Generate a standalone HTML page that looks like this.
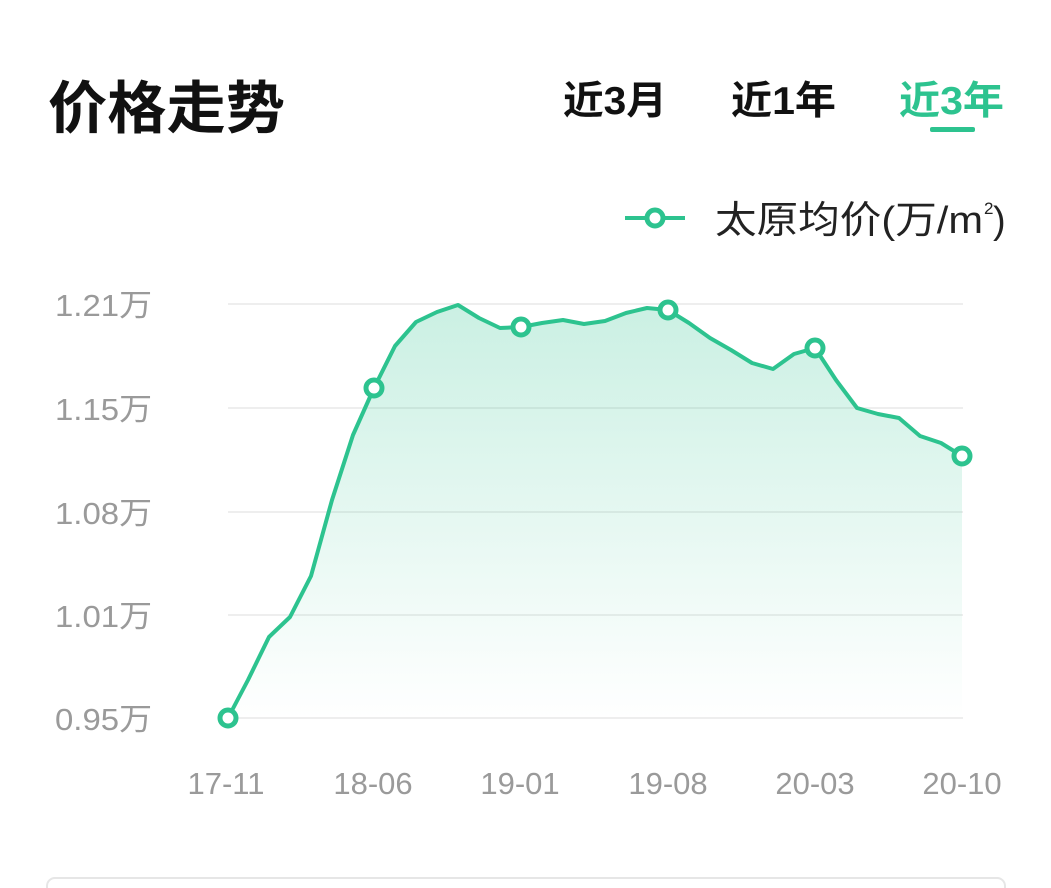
<!DOCTYPE html>
<html><head><meta charset="utf-8"><style>
body{margin:0;width:1051px;height:888px;background:#fff;overflow:hidden;font-family:"Liberation Sans","Noto Sans CJK SC",sans-serif;}
</style></head><body>
<svg width="1051" height="888" xmlns="http://www.w3.org/2000/svg" style="position:absolute;left:0;top:0">
<defs><linearGradient id="g" x1="0" y1="0" x2="0" y2="1"><stop offset="0" stop-color="#2dc38f" stop-opacity="0.25"/><stop offset="1" stop-color="#2dc38f" stop-opacity="0"/></linearGradient></defs>
<g font-family="Liberation Sans,Noto Sans CJK SC,sans-serif">
<text x="48" y="128" font-size="57" font-weight="bold" fill="#111" textLength="237" lengthAdjust="spacingAndGlyphs">价格走势</text>
<text x="563" y="114" font-size="39" font-weight="bold" fill="#111" textLength="104" lengthAdjust="spacingAndGlyphs">近3月</text>
<text x="731" y="114" font-size="39" font-weight="bold" fill="#111" textLength="105" lengthAdjust="spacingAndGlyphs">近1年</text>
<text x="899" y="114" font-size="39" font-weight="bold" fill="#2dc38f" textLength="105" lengthAdjust="spacingAndGlyphs">近3年</text>
<rect x="930" y="127" width="45" height="5" rx="2" fill="#2dc38f"/>
<line x1="625" y1="218" x2="685" y2="218" stroke="#2dc38f" stroke-width="4"/>
<circle cx="655" cy="218" r="8" fill="#fff" stroke="#2dc38f" stroke-width="5"/>
<text x="715" y="233" font-size="38" fill="#222" textLength="268" lengthAdjust="spacingAndGlyphs">太原均价(万/m</text>
<text x="984" y="214" font-size="17" fill="#222">2</text>
<text x="993" y="233" font-size="38" fill="#222">)</text>
<g stroke="#eeeeee" stroke-width="2">
<line x1="228" y1="304" x2="963" y2="304"/><line x1="228" y1="408" x2="963" y2="408"/><line x1="228" y1="512" x2="963" y2="512"/><line x1="228" y1="615" x2="963" y2="615"/><line x1="228" y1="718" x2="963" y2="718"/>
</g>
<g font-size="31" fill="#9a9a9a">
<text x="55" y="316" textLength="97" lengthAdjust="spacingAndGlyphs">1.21万</text><text x="55" y="420" textLength="97" lengthAdjust="spacingAndGlyphs">1.15万</text><text x="55" y="524" textLength="97" lengthAdjust="spacingAndGlyphs">1.08万</text><text x="55" y="627" textLength="97" lengthAdjust="spacingAndGlyphs">1.01万</text><text x="55" y="730" textLength="97" lengthAdjust="spacingAndGlyphs">0.95万</text>
</g>
<g font-size="31" fill="#9a9a9a" text-anchor="middle">
<text x="226" y="794">17-11</text><text x="373" y="794">18-06</text><text x="520" y="794">19-01</text><text x="668" y="794">19-08</text><text x="815" y="794">20-03</text><text x="962" y="794">20-10</text>
</g>
<path d="M228,718 L248,680 269,637 290,617 311,576 332,500 353,435 374,388 395,346 416,322 437,312 458,305 479,318 500,328 521,327 542,323 563,320 584,324 605,321 626,313 647,308 668,310 689,323 710,338 731,350 752,363 773,369 794,354 815,348 836,380 857,408 878,414 899,418 920,436 941,443 962,456 L962,718 Z" fill="url(#g)"/>
<polyline fill="none" stroke="#2dc38f" stroke-width="4" stroke-linejoin="round" points="228,718 248,680 269,637 290,617 311,576 332,500 353,435 374,388 395,346 416,322 437,312 458,305 479,318 500,328 521,327 542,323 563,320 584,324 605,321 626,313 647,308 668,310 689,323 710,338 731,350 752,363 773,369 794,354 815,348 836,380 857,408 878,414 899,418 920,436 941,443 962,456"/>
<g fill="#fff" stroke="#2dc38f" stroke-width="5">
<circle cx="228" cy="718" r="8"/><circle cx="374" cy="388" r="8"/><circle cx="521" cy="327" r="8"/><circle cx="668" cy="310" r="8"/><circle cx="815" cy="348" r="8"/><circle cx="962" cy="456" r="8"/>
</g>
<rect x="47" y="878" width="958" height="30" rx="8" fill="#fff" stroke="#e6e6e6" stroke-width="2"/>
</g>
</svg>
</body></html>
